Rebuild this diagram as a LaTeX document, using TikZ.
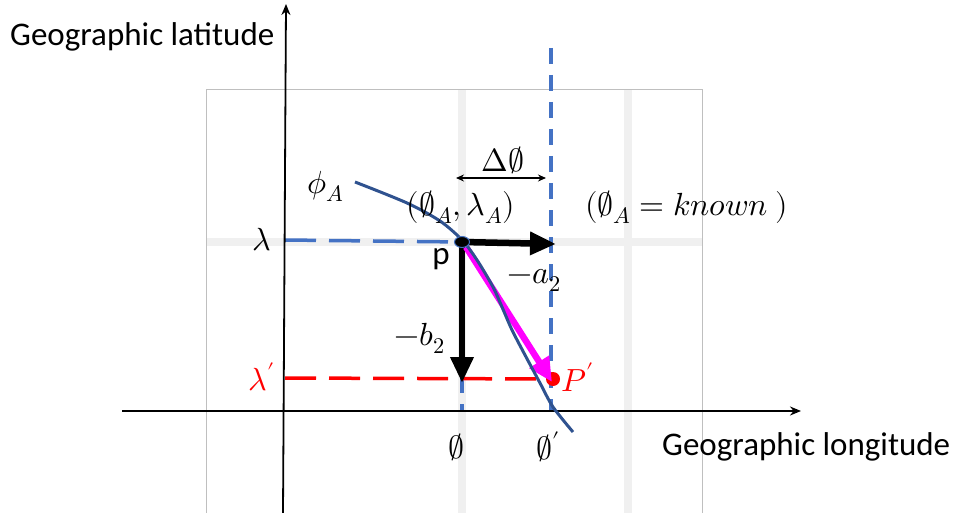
\documentclass[tikz,border=0pt]{standalone}
\usepackage{fontspec}
\usepackage{unicode-math}
\setmainfont{Carlito}
\setmathfont{Latin Modern Math}
\usetikzlibrary{arrows.meta,shapes.geometric}
\definecolor{navy}{HTML}{2F528F}
\definecolor{dblue}{HTML}{4472C4}
\definecolor{mag}{HTML}{FF00FF}
\tikzset{
  lbl/.style={font=\fontsize{33}{38}\selectfont, inner sep=0pt},
  mlbl/.style={font=\fontsize{32}{36}\selectfont, inner sep=0pt},
  axis/.style={line width=1.8pt, -{Stealth[length=11pt,width=9pt]}},
  bdash/.style={dblue, line width=3.5pt, dash pattern=on 16pt off 11pt},
  hdash/.style={dblue, line width=3.5pt, dash pattern=on 31pt off 13pt},
  rdash/.style={red, line width=3.5pt, dash pattern=on 31pt off 13pt},
  bigarrow/.style={line width=6.5pt, -{Triangle[length=26pt,width=22pt]}},
  faint/.style={black!6, line width=8pt}
}
\begin{document}
\begin{tikzpicture}[x=1pt,y=-1pt]
\useasboundingbox (0,0) rectangle (955,513);
% background panel
\draw[faint] (462,89) -- (462,513);
\draw[faint] (628,89) -- (628,513);
\draw[faint] (206,242) -- (702,242);
\draw[black!25, line width=0.8pt] (206,520) -- (206,89) -- (702,89) -- (702,520);
% coordinates
\coordinate (p) at (462,242);
\coordinate (pl) at (285,240);
\coordinate (pe) at (556,244);
\coordinate (pd) at (462,383);
\coordinate (Pp) at (553,379);
\coordinate (lp) at (285,378);
\coordinate (top) at (551,48);
\coordinate (bot) at (551,411);
\coordinate (pbot) at (462,411);
\coordinate (ya0) at (283,513);
\coordinate (ya1) at (286,4);
\coordinate (xa0) at (122,411);
\coordinate (xa1) at (801,411);
% dashed lines
\draw[bdash] (top) -- (bot);
\draw[hdash] (pl) -- (p);
\draw[bdash] (p) -- (pbot);
\draw[rdash] (lp) -- (Pp);
% axes
\draw[axis] (ya0) -- (ya1);
\draw[axis] (xa0) -- (xa1);
% arrows
\draw[bigarrow] (p) -- (pe);
\draw[bigarrow] (p) -- (pd);
\fill[red] (Pp) circle (7pt);
\draw[mag, line width=6.5pt, -{Triangle[length=24pt,width=22pt]}] (466,247) -- (552,382);
% curve
\draw[navy, line width=3pt] plot[smooth] coordinates {(355,182) (407,203) (440,221) (462,240) (477,260) (493,287) (502,307) (512,330) (525,355) (540,383) (553,407) (573,432)};
% point p
\node[ellipse, draw=dblue, fill=black, line width=1pt, minimum width=15pt, minimum height=11pt, inner sep=0pt] (pdot) at (p) {};
% delta arrow
\coordinate (d0) at (456,178);
\coordinate (d1) at (546,178);
\draw[line width=1.2pt, {Stealth[length=8pt,width=7pt]}-{Stealth[length=8pt,width=7pt]}] (d0) -- (d1);
% labels
\node[lbl, anchor=west] (ylab) at (10,37) {Geographic latitude};
\node[lbl, anchor=west] (xlab) at (662,447) {Geographic longitude};
\node[mlbl] (phiA) at (326,186) {$\phi_A$};
\node[mlbl] (coord) at (461,207) {$(\emptyset_A,\lambda_A)$};
\node[mlbl, anchor=west] (known) at (585,207) {$(\emptyset_A=known\ )$};
\node[mlbl] (lam) at (262,240) {$\lambda$};
\node[lbl] (plab) at (441,259) {p};
\node[mlbl] (a2) at (534,280) {$-a_2$};
\node[mlbl] (b2) at (420,338) {$-b_2$};
\node[mlbl, text=red] (lamp) at (262,377) {$\lambda'$};
\node[mlbl, text=red] (Plab) at (578,377) {$P'$};
\node[mlbl] (e0) at (456,447) {$\emptyset$};
\node[mlbl] (e1) at (548,447) {$\emptyset'$};
\node[mlbl] (de) at (503,160) {$\Delta\emptyset$};
\end{tikzpicture}
\end{document}
